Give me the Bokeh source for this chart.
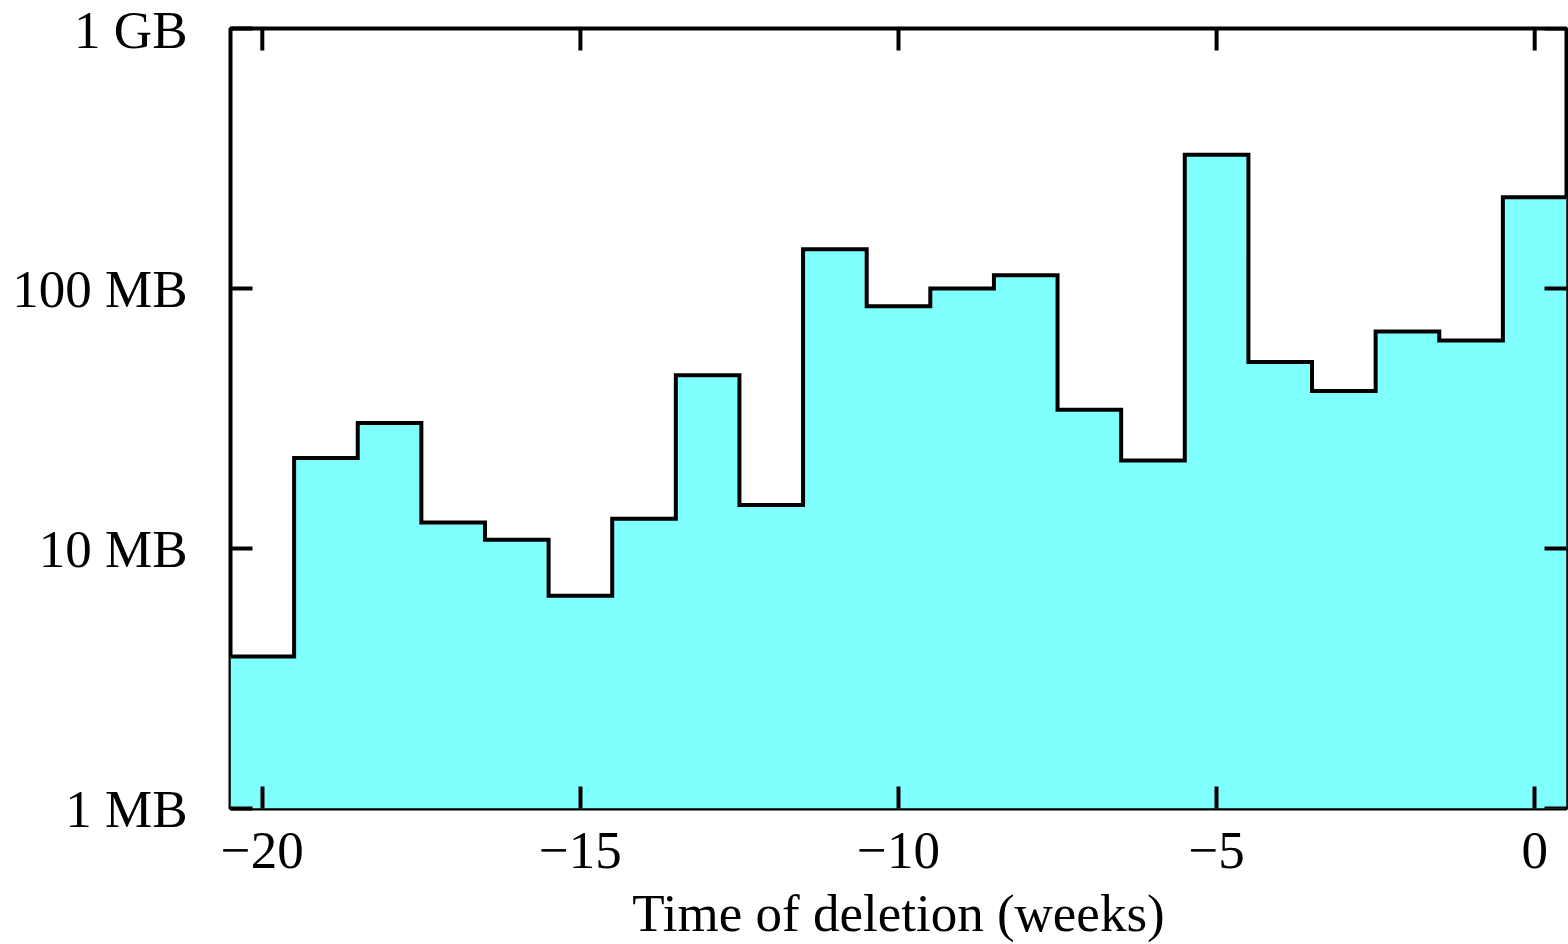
import math
from bokeh.plotting import figure
from bokeh.models import FixedTicker, Range1d, ColumnDataSource
from bokeh.embed import file_html
from bokeh.resources import INLINE

# ---- data ----
weeks = list(range(-20, 1))
sizes_mb = [3.84, 22.3, 30.4, 12.6, 10.8, 6.58, 13.0, 46.4, 14.7, 141.6,
            85.5, 100.0, 112.5, 34.2, 21.8, 327.0, 52.2, 40.3, 68.3, 63.1, 224.5]
x_ticks = [-20, -15, -10, -5, 0]
x_tick_labels = ["\u221220", "\u221215", "\u221210", "\u22125", "0"]
y_ticks = [1, 10, 100, 1000]
y_tick_labels = ["1 MB", "10 MB", "100 MB", "1 GB"]
x_label = "Time of deletion (weeks)"

FONT = "Liberation Serif"
FS = "53px"
FILL = "#80ffff"
LW = 4

lefts = [w - 0.5 for w in weeks]
rights = [w + 0.5 for w in weeks]
edges = lefts + [rights[-1]]
step_vals = sizes_mb + [sizes_mb[-1]]
base = [y_ticks[0]] * len(edges)
x_lo, x_hi = edges[0], edges[-1]
y_lo, y_hi = y_ticks[0], y_ticks[-1]

area = ColumnDataSource(dict(x=edges, y1=base, y2=step_vals))

p = figure(width=1568, height=944, y_axis_type="log",
           x_range=Range1d(x_lo, x_hi), y_range=Range1d(y_lo, y_hi),
           output_backend="svg", toolbar_location=None,
           min_border_left=230, min_border_right=2,
           min_border_top=28, min_border_bottom=136)

p.varea_step(x="x", y1="y1", y2="y2", source=area, step_mode="after",
             fill_color=FILL)
p.step(x="x", y="y2", source=area, mode="after", line_color="black",
       line_width=LW, line_join="miter")

# mirrored inside ticks on the top and right edges (clipped to frame -> half length inside)
p.scatter(x=x_ticks, y=[y_hi] * len(x_ticks), marker="dash", size=44,
          angle=math.pi / 2, line_color="black", line_width=LW)
p.scatter(x=[x_hi] * len(y_ticks), y=y_ticks, marker="dash", size=44,
          line_color="black", line_width=LW)

p.grid.visible = False
p.outline_line_color = "black"
p.outline_line_width = LW
p.background_fill_color = "white"
p.border_fill_color = "white"


def style(ax, ticks, labels, standoff):
    ax.ticker = FixedTicker(ticks=ticks)
    ax.axis_line_color = None
    ax.major_tick_line_color = "black"
    ax.major_tick_line_width = LW
    ax.major_tick_in = 22
    ax.major_tick_out = 0
    ax.minor_tick_line_color = None
    ax.major_label_text_font = FONT
    ax.major_label_text_font_size = FS
    ax.major_label_text_color = "black"
    ax.major_label_standoff = standoff
    ax.major_label_overrides = {t: l for t, l in zip(ticks, labels)}


style(p.xaxis[0], x_ticks, x_tick_labels, 24)
style(p.yaxis[0], y_ticks, y_tick_labels, 43)

xa = p.xaxis[0]
xa.axis_label = x_label
xa.axis_label_text_font = FONT
xa.axis_label_text_font_size = FS
xa.axis_label_text_font_style = "normal"
xa.axis_label_text_color = "black"
xa.axis_label_standoff = 13

open("out.html", "w").write(file_html(p, INLINE))
